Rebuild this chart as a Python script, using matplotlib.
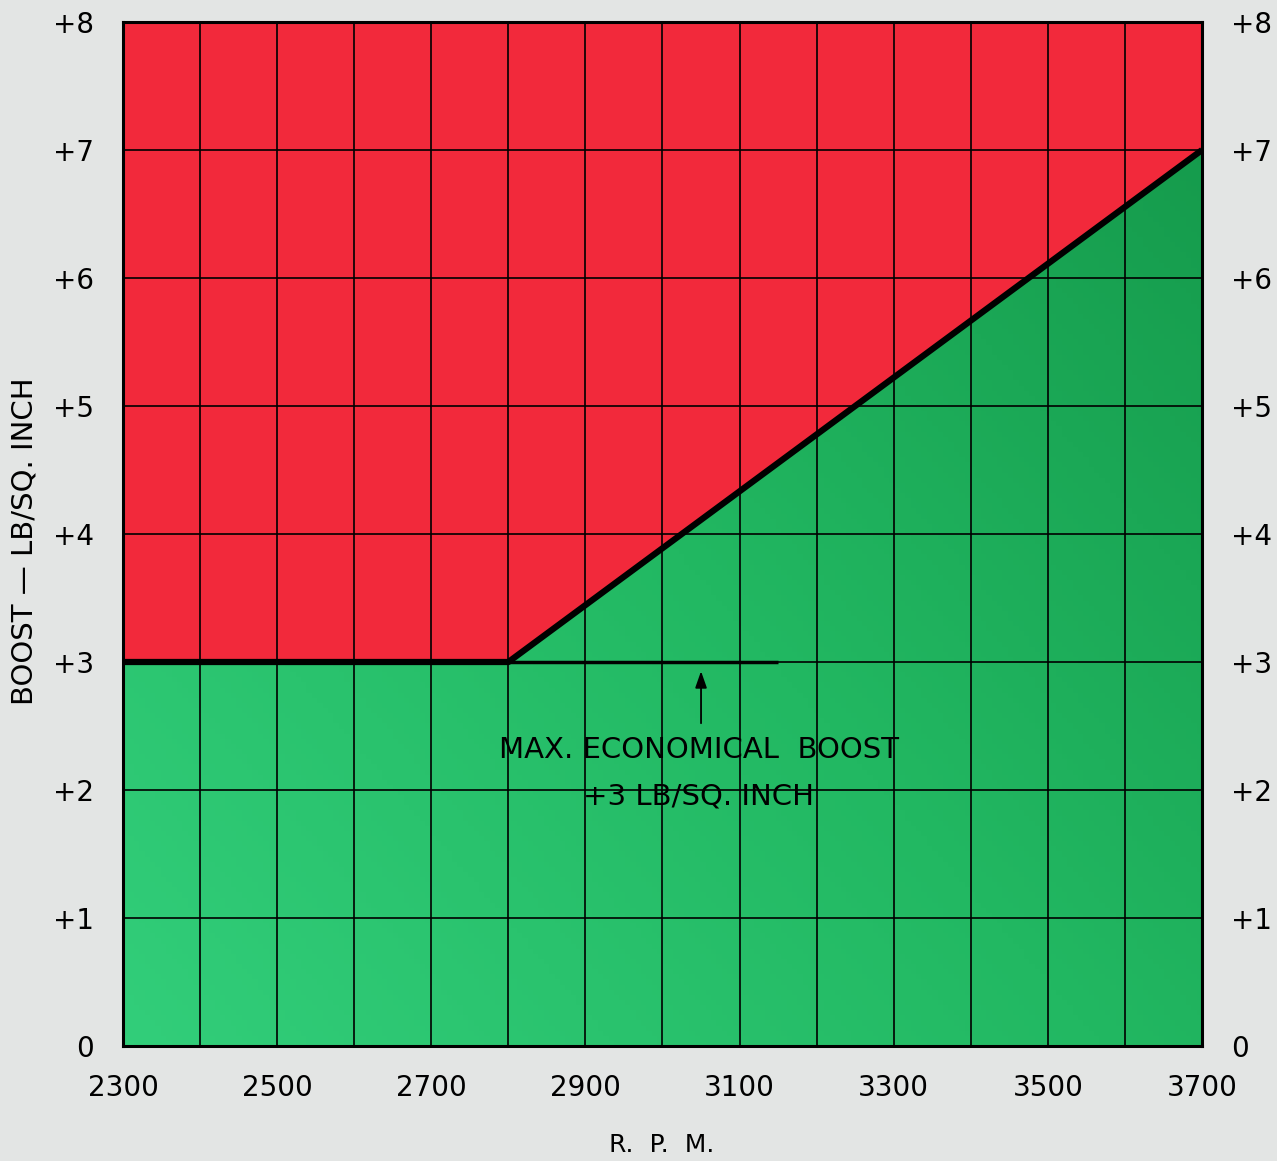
import matplotlib
matplotlib.use("Agg")
import matplotlib.pyplot as plt
import numpy as np
from matplotlib.colors import LinearSegmentedColormap
from matplotlib.patches import Polygon

# Data
rpm_boundary = [2300, 2800, 3700]
boost_boundary = [3, 3, 7]
econ_rpm = [2800, 3150]
econ_boost = [3, 3]
x_ticks = [2300, 2500, 2700, 2900, 3100, 3300, 3500, 3700]
y_ticks = [0, 1, 2, 3, 4, 5, 6, 7, 8]
y_labels = ["0", "+1", "+2", "+3", "+4", "+5", "+6", "+7", "+8"]
annot_lines = ["MAX. ECONOMICAL  BOOST", "+3 LB/SQ. INCH"]

bg = "#e3e5e4"
red = "#f2293b"

fig = plt.figure(figsize=(12.77, 11.61), dpi=100, facecolor=bg)
ax = fig.add_axes([123/1277, 1-1046/1161, 1079/1277, 1024/1161])
ax.set_xlim(2300, 3700)
ax.set_ylim(0, 8)
ax.set_facecolor(red)

# green region with gradient
poly_x = rpm_boundary + [3700, 2300]
poly_y = boost_boundary + [0, 0]
patch = Polygon(np.column_stack([poly_x, poly_y]), closed=True, facecolor="none", edgecolor="none")
ax.add_patch(patch)
cmap = LinearSegmentedColormap.from_list("g", ["#32ce7a", "#22b862", "#14984a"])
gx, gy = np.meshgrid(np.linspace(0, 1, 200), np.linspace(0, 1, 200))
grad = 0.55 * gx + 0.45 * gy
im = ax.imshow(grad, extent=[2300, 3700, 0, 8], origin="lower", cmap=cmap, aspect="auto", zorder=1)
im.set_clip_path(patch)

# grid
for xv in range(2300, 3701, 100):
    ax.axvline(xv, color="black", lw=1.2, zorder=2)
for yv in range(0, 9):
    ax.axhline(yv, color="black", lw=1.2, zorder=2)

# boundary
ax.plot(rpm_boundary, boost_boundary, color="black", lw=4.5, zorder=4, solid_capstyle="butt")
ax.plot(econ_rpm, econ_boost, color="black", lw=2.5, zorder=4, solid_capstyle="butt")

ax.annotate("", xy=(3050, 2.95), xytext=(3050, 2.5),
            arrowprops=dict(arrowstyle="-|>,head_length=1.0,head_width=0.35", color="black", lw=1.3), zorder=5)
ax.text(3047, 2.31, annot_lines[0], ha="center", va="center", fontsize=21, zorder=5)
ax.text(3047, 1.95, annot_lines[1], ha="center", va="center", fontsize=21, zorder=5)

for s in ax.spines.values():
    s.set_linewidth(2.2)
    s.set_zorder(6)

ax.set_xticks(x_ticks)
ax.set_xticklabels([str(v) for v in x_ticks], fontsize=20)
ax.set_yticks(y_ticks)
ax.set_yticklabels(y_labels, fontsize=20)
ax.tick_params(axis="x", length=0, pad=20)
ax.tick_params(axis="y", length=0, pad=21, labelright=True, right=True)

fig.text(662/1277, 1-1145/1161, "R.  P.  M.", fontsize=18, ha="center", va="center")
fig.text(25/1277, 1-541/1161, "BOOST — LB/SQ. INCH", fontsize=21, rotation=90, ha="center", va="center")

fig.savefig("out.png", dpi=100, facecolor=bg)
